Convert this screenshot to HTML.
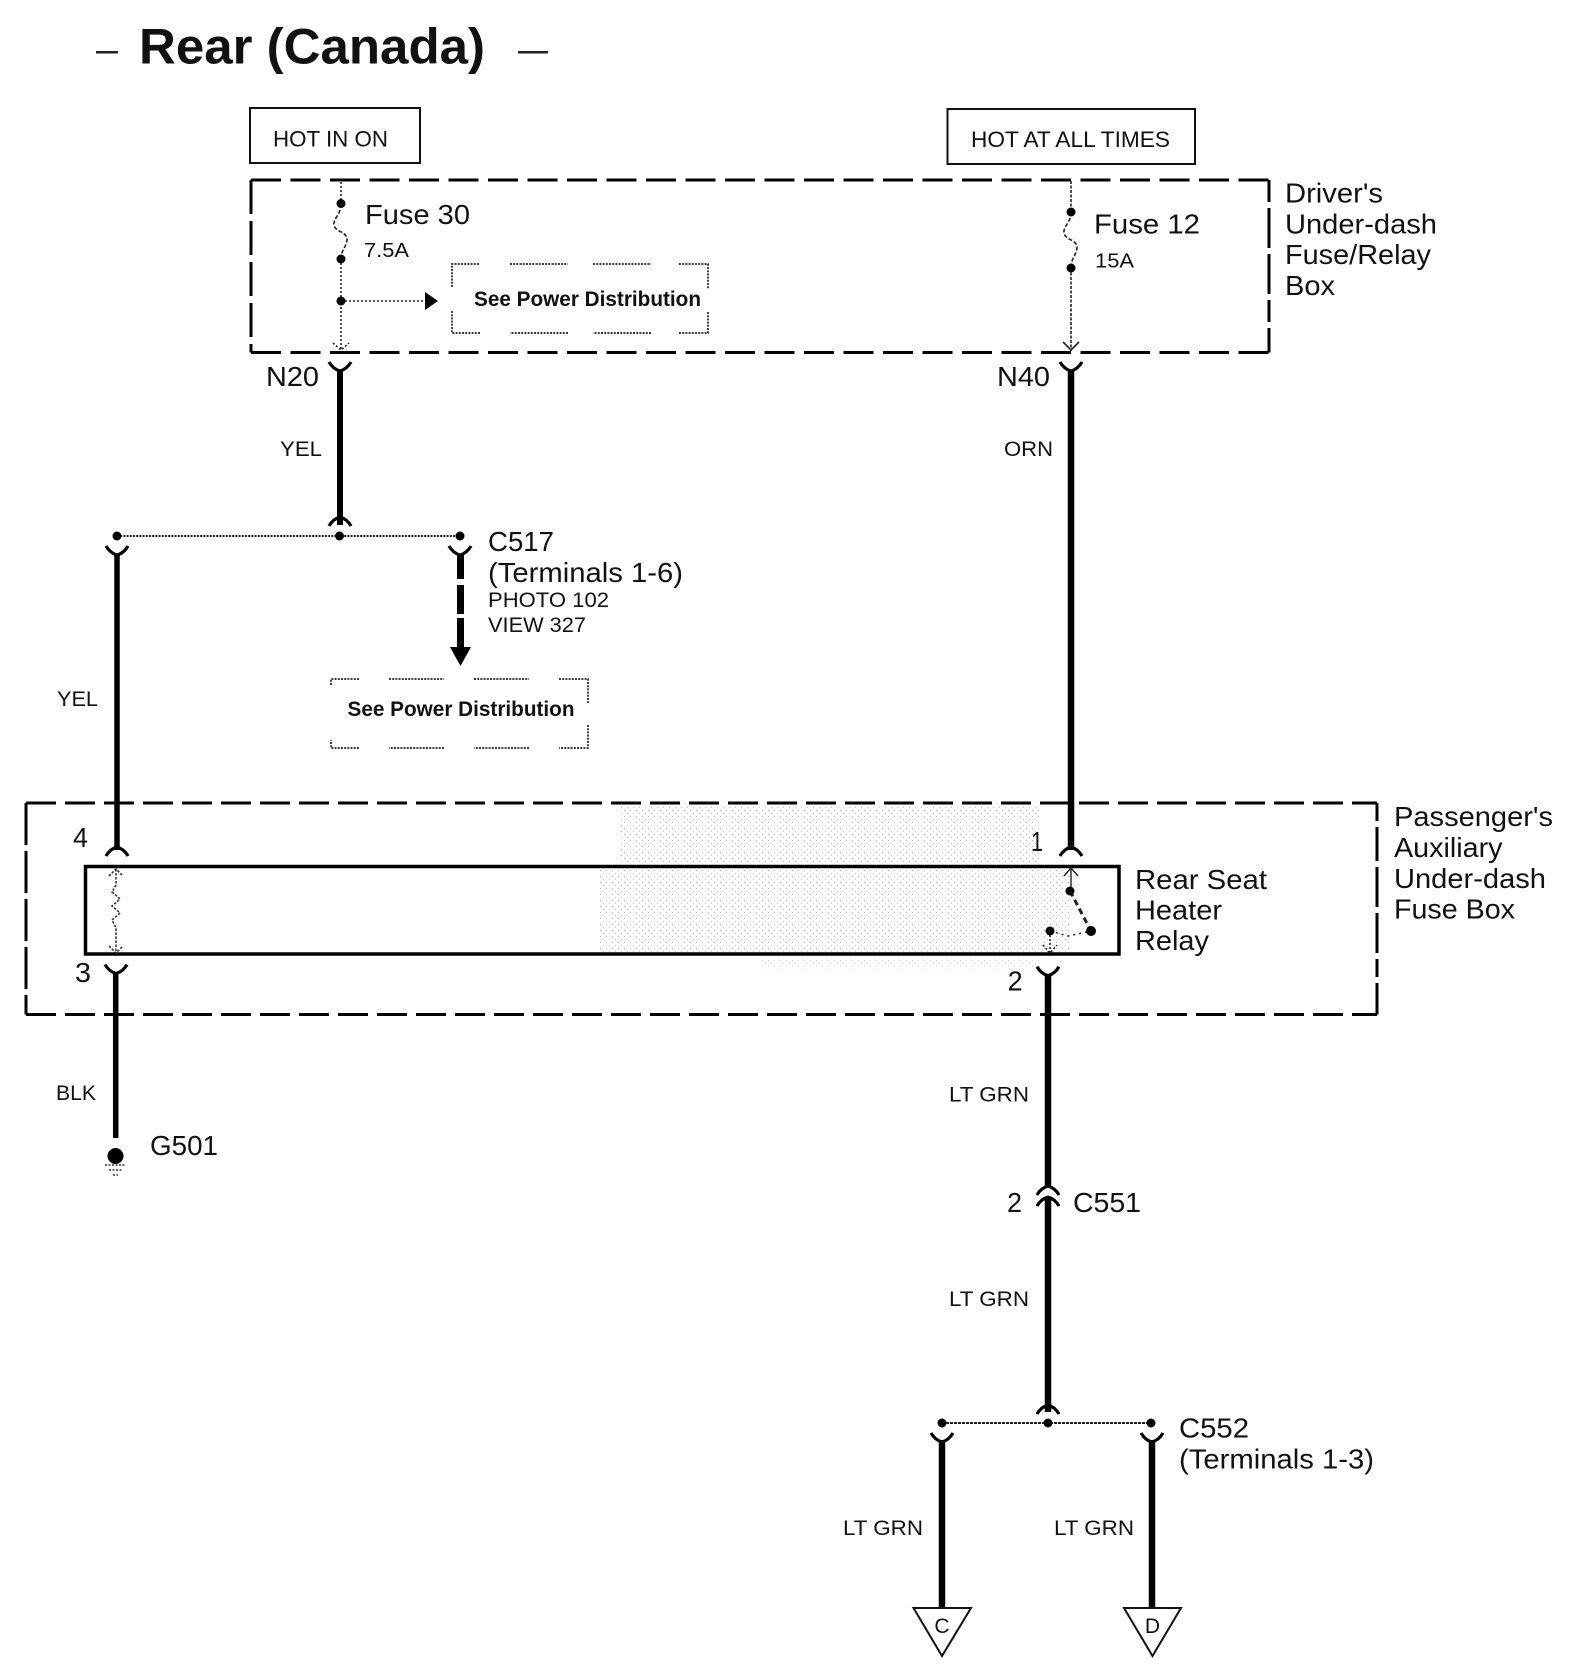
<!DOCTYPE html>
<html>
<head>
<meta charset="utf-8">
<style>
html,body{margin:0;padding:0;background:#fff;}
svg{display:block;}
text{font-family:"Liberation Sans",sans-serif;fill:#111;}
</style>
</head>
<body>
<svg width="1584" height="1673" viewBox="0 0 1584 1673" xmlns="http://www.w3.org/2000/svg">
<defs>
<pattern id="st" width="6" height="6" patternUnits="userSpaceOnUse"><rect width="1" height="1" fill="#555"/><rect x="3" y="3" width="1" height="1" fill="#777"/></pattern>
<path id="y" d="M-11,0 Q-7,7 0,9 Q7,7 11,0" fill="none" stroke="#000" stroke-width="3.2"/>
<path id="a" d="M-11,8 Q-7,1 0,-1 Q7,1 11,8" fill="none" stroke="#000" stroke-width="3.2"/>
</defs>

<!-- stipple noise -->
<rect x="620" y="806" width="420" height="56" fill="url(#st)" opacity=".4"/>
<rect x="600" y="870" width="470" height="82" fill="url(#st)" opacity=".4"/>
<rect x="760" y="956" width="280" height="14" fill="url(#st)" opacity=".2"/>

<!-- title -->
<text x="139" y="63.5" font-size="50" font-weight="bold" textLength="346" lengthAdjust="spacingAndGlyphs">Rear (Canada)</text>
<rect x="96" y="51" width="22" height="2.5" fill="#222"/>
<rect x="518" y="51" width="30" height="2.5" fill="#222"/>

<!-- hot boxes -->
<rect x="250" y="108" width="170" height="55" fill="none" stroke="#111" stroke-width="2"/>
<text x="273" y="146.5" font-size="22" textLength="115" lengthAdjust="spacingAndGlyphs">HOT IN ON</text>
<rect x="947.5" y="109" width="247.5" height="55" fill="none" stroke="#111" stroke-width="2"/>
<text x="971" y="147" font-size="22" textLength="199" lengthAdjust="spacingAndGlyphs">HOT AT ALL TIMES</text>

<!-- Driver's box -->
<g fill="none" stroke="#000" stroke-width="3">
<path d="M251,180H1269" stroke-dasharray="30 9.5"/>
<path d="M251,352.5H1269" stroke-dasharray="30 9.5"/>
<path d="M251,180V352.5" stroke-dasharray="34 7"/>
<path d="M1269,180V352.5" stroke-dasharray="22 6 40 6 40 6"/>
</g>
<text x="1285" y="202.5" font-size="28" textLength="98" lengthAdjust="spacingAndGlyphs">Driver's</text>
<text x="1285" y="233.5" font-size="28" textLength="152" lengthAdjust="spacingAndGlyphs">Under-dash</text>
<text x="1285" y="264" font-size="28" textLength="146" lengthAdjust="spacingAndGlyphs">Fuse/Relay</text>
<text x="1285" y="295" font-size="28" textLength="50" lengthAdjust="spacingAndGlyphs">Box</text>

<!-- Fuse 30 internals -->
<g fill="none" stroke="#222" stroke-width="1.6">
<path d="M341,182V204" stroke-dasharray="2 2"/>
<path d="M341,204C341,215 333,218 334,225C335,232 348,232 347,240C346,248 341,250 341,259" stroke-dasharray="4 2"/>
<path d="M341,259V351" stroke-dasharray="2 2"/>
<path d="M333,343L341,350L349,343" stroke-dasharray="2 2"/>
<path d="M341,301H426" stroke-dasharray="2 2"/>
</g>
<circle cx="341" cy="203.5" r="4.5"/>
<circle cx="341" cy="259" r="4.5"/>
<circle cx="341" cy="301" r="4.5"/>
<path d="M425,292L438,301L425,310Z"/>
<text x="365" y="224" font-size="28" textLength="105" lengthAdjust="spacingAndGlyphs">Fuse 30</text>
<text x="364" y="257" font-size="20" textLength="45" lengthAdjust="spacingAndGlyphs">7.5A</text>

<!-- see power 1 -->
<g fill="none" stroke="#222" stroke-width="1.7" stroke-dasharray="2 1.2">
<path d="M452,287V264H480M510,264H568M593,264H651M679,264H708V289M708,312V333H679M651,333H593M568,333H510M480,333H452V310"/>
</g>
<text x="474" y="306" font-size="21" font-weight="bold" textLength="227" lengthAdjust="spacingAndGlyphs">See Power Distribution</text>

<!-- N20 wire -->
<use href="#y" x="340" y="362"/>
<path d="M340,370V525" stroke="#000" stroke-width="6"/>
<use href="#a" x="340" y="518"/>
<text x="266" y="386" font-size="28" textLength="53" lengthAdjust="spacingAndGlyphs">N20</text>
<text x="280" y="456" font-size="21" textLength="42" lengthAdjust="spacingAndGlyphs">YEL</text>

<!-- C517 bus -->
<path d="M117,536H460" stroke="#222" stroke-width="2" stroke-dasharray="2 1.2"/>
<circle cx="117" cy="536" r="4.5"/><circle cx="339.5" cy="536" r="4.5"/><circle cx="460" cy="536" r="4.5"/>
<use href="#y" x="117" y="546"/>
<use href="#y" x="460" y="546"/>
<path d="M117,554V850" stroke="#000" stroke-width="5.5"/>
<use href="#a" x="117" y="848"/>
<path d="M460.5,554V579M460.5,585V614M460.5,618V648" stroke="#000" stroke-width="7"/>
<path d="M450,647H471L460.5,666Z"/>
<text x="488" y="551" font-size="28" textLength="66" lengthAdjust="spacingAndGlyphs">C517</text>
<text x="488" y="582" font-size="28" textLength="195" lengthAdjust="spacingAndGlyphs">(Terminals 1-6)</text>
<text x="488" y="607" font-size="21" textLength="121" lengthAdjust="spacingAndGlyphs">PHOTO 102</text>
<text x="488" y="632" font-size="21" textLength="98" lengthAdjust="spacingAndGlyphs">VIEW 327</text>
<text x="57" y="706" font-size="21" textLength="41" lengthAdjust="spacingAndGlyphs">YEL</text>

<!-- see power 2 -->
<g fill="none" stroke="#222" stroke-width="1.7" stroke-dasharray="2 1.2">
<path d="M331,685V679H360M389,679H444M474,679H529M559,679H588V703M588,725V748H559M529,748H474M444,748H389M359,748H331V740"/>
</g>
<text x="347.5" y="716" font-size="21" font-weight="bold" textLength="227" lengthAdjust="spacingAndGlyphs">See Power Distribution</text>

<!-- Passenger's box -->
<g fill="none" stroke="#000" stroke-width="3">
<path d="M26,803H1377" stroke-dasharray="30 9"/>
<path d="M26,1014.5H1377" stroke-dasharray="30 9"/>
<path d="M26,803V1014.5" stroke-dasharray="42 6"/>
<path d="M1377,803V1014.5" stroke-dasharray="18 6 34 6 40 6 40 6"/>
</g>
<text x="1394" y="826" font-size="28" textLength="159" lengthAdjust="spacingAndGlyphs">Passenger's</text>
<text x="1394" y="857" font-size="28" textLength="108.5" lengthAdjust="spacingAndGlyphs">Auxiliary</text>
<text x="1394" y="888" font-size="28" textLength="152" lengthAdjust="spacingAndGlyphs">Under-dash</text>
<text x="1394" y="918.5" font-size="28" textLength="121" lengthAdjust="spacingAndGlyphs">Fuse Box</text>

<!-- relay -->
<rect x="85.5" y="866.5" width="1033.5" height="87.5" fill="none" stroke="#000" stroke-width="3.5"/>
<text x="1135" y="889" font-size="28" textLength="132" lengthAdjust="spacingAndGlyphs">Rear Seat</text>
<text x="1135" y="919.5" font-size="28" textLength="87" lengthAdjust="spacingAndGlyphs">Heater</text>
<text x="1135" y="950" font-size="28" textLength="74" lengthAdjust="spacingAndGlyphs">Relay</text>
<text x="73" y="847" font-size="28" textLength="15" lengthAdjust="spacingAndGlyphs">4</text>
<text x="75" y="982" font-size="28" textLength="16" lengthAdjust="spacingAndGlyphs">3</text>

<!-- coil -->
<g fill="none" stroke="#333" stroke-width="1.6" stroke-dasharray="2.5 1.5">
<path d="M116,869V885L112,892L120,899L112,906L120,913L112,920L116,928V952"/>
<path d="M109,876L116,869L123,876"/>
<path d="M109,946L116,953L123,946"/>
</g>

<!-- ground wire -->
<use href="#y" x="116" y="964.5"/>
<path d="M115.7,972V1138" stroke="#000" stroke-width="5.5"/>
<circle cx="115.5" cy="1156" r="8"/>
<path d="M105,1165H126M109,1170H122M113,1175H118" stroke="#333" stroke-width="1.6" stroke-dasharray="2 1.5"/>
<text x="56" y="1100" font-size="21" textLength="40" lengthAdjust="spacingAndGlyphs">BLK</text>
<text x="150" y="1155" font-size="28" textLength="68" lengthAdjust="spacingAndGlyphs">G501</text>

<!-- Fuse 12 -->
<g fill="none" stroke="#222" stroke-width="1.6">
<path d="M1071,181V212" stroke-dasharray="3 1.5"/>
<path d="M1071,212C1071,223 1063,226 1064,233C1065,240 1078,240 1077,248C1076,256 1071,258 1071,268" stroke-dasharray="4 2"/>
<path d="M1071,268V351" stroke-dasharray="3 1.5"/>
<path d="M1063,342L1071,350L1079,342"/>
</g>
<circle cx="1071" cy="212" r="4.5"/>
<circle cx="1071" cy="268" r="4.5"/>
<text x="1094" y="233.5" font-size="28" textLength="106" lengthAdjust="spacingAndGlyphs">Fuse 12</text>
<text x="1095" y="267.5" font-size="20" textLength="39" lengthAdjust="spacingAndGlyphs">15A</text>

<!-- N40 wire -->
<use href="#y" x="1071" y="362"/>
<path d="M1071,370V850" stroke="#000" stroke-width="6.5"/>
<use href="#a" x="1071" y="848"/>
<text x="997" y="386" font-size="28" textLength="53" lengthAdjust="spacingAndGlyphs">N40</text>
<text x="1004" y="456" font-size="21" textLength="49" lengthAdjust="spacingAndGlyphs">ORN</text>
<text x="1031" y="851" font-size="28" textLength="12" lengthAdjust="spacingAndGlyphs">1</text>

<!-- switch -->
<g fill="none" stroke="#222">
<path d="M1071,868V888" stroke-width="1.4"/>
<path d="M1064,876L1071,868L1078,876" stroke-width="1.4"/>
<path d="M1070,891L1091,931" stroke-width="3" stroke-dasharray="6 4"/>
<path d="M1050,931L1068,936L1091,931" stroke-width="1.6" stroke-dasharray="2 4"/>
<path d="M1050,931V953" stroke-width="1.6" stroke-dasharray="2 2"/>
<path d="M1043,945L1050,953L1057,945" stroke-width="1.6" stroke-dasharray="2 2"/>
</g>
<circle cx="1070" cy="891" r="4.5"/>
<circle cx="1091" cy="931" r="5"/>
<circle cx="1050" cy="931" r="4.5"/>

<!-- 2 / LT GRN -->
<use href="#y" x="1048" y="966.7"/>
<path d="M1048,974V1188" stroke="#000" stroke-width="6.5"/>
<use href="#a" x="1048" y="1187"/>
<use href="#a" x="1048" y="1198"/>
<path d="M1048,1198V1412" stroke="#000" stroke-width="6.5"/>
<text x="1007.6" y="990.7" font-size="28" textLength="15" lengthAdjust="spacingAndGlyphs">2</text>
<text x="949" y="1101.7" font-size="21" textLength="80" lengthAdjust="spacingAndGlyphs">LT GRN</text>
<text x="1007" y="1212" font-size="28" textLength="15" lengthAdjust="spacingAndGlyphs">2</text>
<text x="1073" y="1212" font-size="28" textLength="68" lengthAdjust="spacingAndGlyphs">C551</text>
<text x="949" y="1306" font-size="21" textLength="80" lengthAdjust="spacingAndGlyphs">LT GRN</text>

<!-- C552 -->
<use href="#a" x="1048" y="1406"/>
<path d="M942,1423H1151" stroke="#222" stroke-width="2" stroke-dasharray="3 1"/>
<circle cx="942" cy="1423" r="4.5"/><circle cx="1048" cy="1423" r="4.5"/><circle cx="1151" cy="1423" r="4.5"/>
<use href="#y" x="942" y="1433"/>
<use href="#y" x="1152" y="1433"/>
<path d="M942,1440V1608" stroke="#000" stroke-width="6.5"/>
<path d="M1152,1440V1608" stroke="#000" stroke-width="6.5"/>
<text x="1179" y="1437.5" font-size="28" textLength="70" lengthAdjust="spacingAndGlyphs">C552</text>
<text x="1179" y="1468.5" font-size="28" textLength="195" lengthAdjust="spacingAndGlyphs">(Terminals 1-3)</text>
<text x="843" y="1535" font-size="21" textLength="80" lengthAdjust="spacingAndGlyphs">LT GRN</text>
<text x="1054" y="1535" font-size="21" textLength="80" lengthAdjust="spacingAndGlyphs">LT GRN</text>

<!-- off-page triangles -->
<path d="M913.5,1608H971L942,1656Z" fill="#fff" stroke="#111" stroke-width="2"/>
<path d="M1124,1608H1181L1152.5,1656Z" fill="#fff" stroke="#111" stroke-width="2"/>
<text x="942" y="1633" font-size="21" text-anchor="middle">C</text>
<text x="1152.5" y="1633" font-size="21" text-anchor="middle">D</text>
</svg>
</body>
</html>
